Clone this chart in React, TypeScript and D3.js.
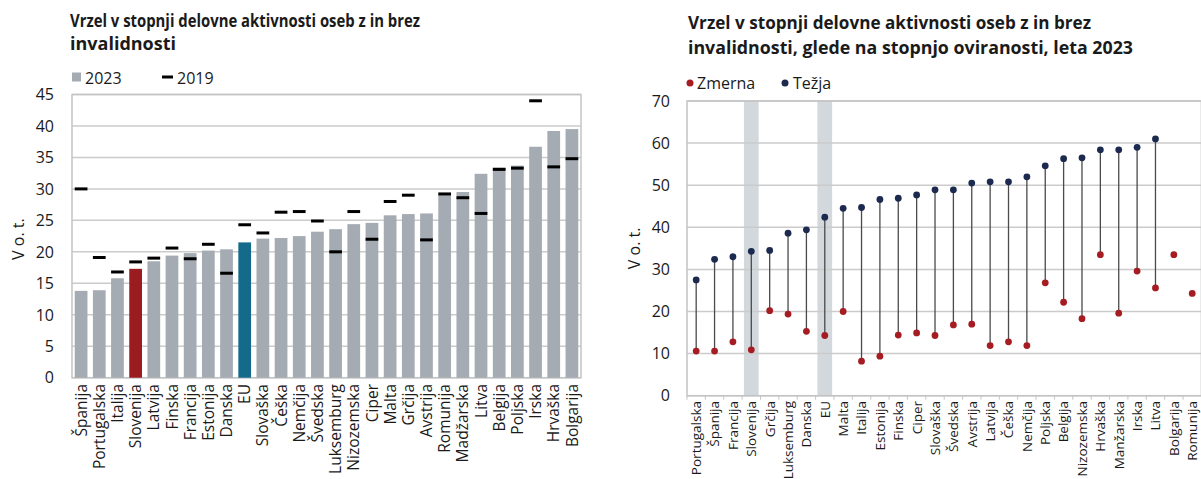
import React from "react";
import * as d3 from "d3";

// ---------- Left chart data ----------
const leftCategories = ["Španija","Portugalska","Italija","Slovenija","Latvija","Finska","Francija","Estonija","Danska","EU","Slovaška","Češka","Nemčija","Švedska","Luksemburg","Nizozemska","Ciper","Malta","Grčija","Avstrija","Romunija","Madžarska","Litva","Belgija","Poljska","Irska","Hrvaška","Bolgarija"];
const values2023 = [13.8,13.9,15.8,17.3,18.5,19.4,19.8,20.2,20.4,21.5,22.1,22.2,22.5,23.2,23.6,24.4,24.6,25.8,26.0,26.1,29.1,29.5,32.4,33.4,33.7,36.7,39.2,39.5];
const values2019 = [30.0,19.1,16.8,18.4,19.0,20.6,18.9,21.2,16.6,24.3,23.0,26.3,26.4,24.9,20.0,26.4,22.0,28.0,29.0,21.9,29.2,28.6,26.1,33.1,33.3,44.0,33.5,34.8];
const leftTicks = [0,5,10,15,20,25,30,35,40,45];

// ---------- Right chart data ----------
const rightCategories = ["Portugalska","Španija","Francija","Slovenija","Grčija","Luksemburg","Danska","EU","Malta","Italija","Estonija","Finska","Ciper","Slovaška","Švedska","Avstrija","Latvija","Češka","Nemčija","Poljska","Belgija","Nizozemska","Hrvaška","Manžarska","Irska","Litva","Bolgarija","Romunija"];
const zmerna = [10.6,10.6,12.8,10.9,20.2,19.4,15.3,14.3,20.0,8.2,9.4,14.4,14.9,14.3,16.8,17.0,11.9,12.8,11.9,26.8,22.2,18.3,33.5,19.6,29.6,25.6,33.5,24.3];
const tezja: (number | null)[] = [27.5,32.4,33.0,34.3,34.5,38.6,39.4,42.4,44.5,44.7,46.6,46.9,47.7,48.9,48.9,50.5,50.8,50.8,52.0,54.6,56.3,56.5,58.4,58.4,59.0,61.0,null,null];
const highlighted = ["Slovenija","EU"];
const rightTicks = [0,10,20,30,40,50,60,70];

const FONT = "'Open Sans', 'Noto Sans', sans-serif";

function LeftChart() {
  const L = 72, R = 581, T = 94.5, B = 377.7;
  const x = d3.scaleBand<string>().domain(leftCategories).range([L, R]).paddingInner(0.3).paddingOuter(0.15);
  const y = d3.scaleLinear().domain([0, 45]).range([B, T]);
  const bw = x.bandwidth();
  const colorFor = (c: string) => c === "Slovenija" ? "#9a1b20" : c === "EU" ? "#136a8a" : "#a4abb2";
  return (
    <g>
      <text x={70} y={27} fontFamily={FONT} fontWeight={700} fontSize={18} fill="#1a1a1a" textLength={350} lengthAdjust="spacingAndGlyphs">Vrzel v stopnji delovne aktivnosti oseb z in brez</text>
      <text x={70} y={50} fontFamily={FONT} fontWeight={700} fontSize={18} fill="#1a1a1a" textLength={106} lengthAdjust="spacingAndGlyphs">invalidnosti</text>
      {/* legend */}
      <rect x={72} y={72.5} width={9} height={9} fill="#a4abb2" />
      <text x={85} y={83.5} fontFamily={FONT} fontSize={16} fill="#1a1a1a">2023</text>
      <rect x={162} y={75.5} width={11} height={3} fill="#000" />
      <text x={177} y={83.5} fontFamily={FONT} fontSize={16} fill="#1a1a1a">2019</text>
      {/* grid */}
      {leftTicks.map(t => (
        <g key={t}>
          <line x1={L} x2={R} y1={y(t)} y2={y(t)} stroke="#cbcbcb" strokeWidth={1.5} />
          <text x={54} y={y(t)} dy="0.36em" textAnchor="end" fontFamily={FONT} fontSize={16} fill="#1a1a1a">{t}</text>
        </g>
      ))}
      <rect x={L} y={T} width={R - L} height={B - T} fill="none" stroke="#c4c4c4" strokeWidth={1.5} />
      <text transform={`translate(24,${(T + B) / 2 + 3}) rotate(-90)`} textAnchor="middle" fontFamily={FONT} fontSize={16} fill="#1a1a1a">V o. t.</text>
      {leftCategories.map((c, i) => (
        <rect key={c} x={x(c)!} y={y(values2023[i])} width={bw} height={B - y(values2023[i])} fill={colorFor(c)} />
      ))}
      {leftCategories.map((c, i) => (
        <rect key={"m" + c} x={x(c)!} y={y(values2019[i]) - 1.5} width={bw} height={3} fill="#000" />
      ))}
      {leftCategories.map(c => (
        <text key={"l" + c} transform={`translate(${x(c)! + bw / 2},384) rotate(-90)`} dy="0.36em" textAnchor="end" fontFamily={FONT} fontSize={15.5} fill="#1a1a1a">{c}</text>
      ))}
    </g>
  );
}

function RightChart() {
  const L = 687, R = 1201.4, T = 101, B = 395.7;
  const x = d3.scaleBand<string>().domain(rightCategories).range([L, R]).paddingInner(0.2).paddingOuter(0.1);
  const y = d3.scaleLinear().domain([0, 70]).range([B, T]);
  const bw = x.bandwidth();
  const step = x.step();
  const cx = (c: string) => x(c)! + bw / 2;
  return (
    <g>
      <text x={688} y={29} fontFamily={FONT} fontWeight={700} fontSize={18.5} fill="#1a1a1a" textLength={403} lengthAdjust="spacingAndGlyphs">Vrzel v stopnji delovne aktivnosti oseb z in brez</text>
      <text x={688} y={54} fontFamily={FONT} fontWeight={700} fontSize={18.5} fill="#1a1a1a" textLength={445} lengthAdjust="spacingAndGlyphs">invalidnosti, glede na stopnjo oviranosti, leta 2023</text>
      {/* legend */}
      <circle cx={690} cy={83} r={3.5} fill="#a51d22" />
      <text x={697} y={88.5} fontFamily={FONT} fontSize={16} fill="#1a1a1a">Zmerna</text>
      <circle cx={785} cy={83} r={3.5} fill="#1b2a4e" />
      <text x={793} y={88.5} fontFamily={FONT} fontSize={16} fill="#1a1a1a">Težja</text>
      {highlighted.map(c => (
        <rect key={"h" + c} x={x(c)!} y={T} width={bw} height={B - T} fill="#d2d8dc" />
      ))}
      {rightTicks.map(t => (
        <g key={t}>
          <line x1={L} x2={R} y1={y(t)} y2={y(t)} stroke="#cbcbcb" strokeWidth={1.5} />
          <text x={670} y={y(t)} dy="0.36em" textAnchor="end" fontFamily={FONT} fontSize={16} fill="#1a1a1a">{t}</text>
        </g>
      ))}
      <rect x={L} y={T} width={R - L} height={B - T} fill="none" stroke="#c4c4c4" strokeWidth={1.5} />
      {rightCategories.map((c, i) => (
        <line key={"tk" + c} x1={L + i * step} x2={L + i * step} y1={B} y2={B + 4} stroke="#c4c4c4" strokeWidth={1} />
      ))}
      <text transform={`translate(640,${(T + B) / 2}) rotate(-90)`} textAnchor="middle" fontFamily={FONT} fontSize={16} fill="#1a1a1a">V o. t.</text>
      {rightCategories.map((c, i) => tezja[i] != null ? (
        <line key={"ln" + c} x1={cx(c)} x2={cx(c)} y1={y(zmerna[i])} y2={y(tezja[i] as number)} stroke="#4a4a4a" strokeWidth={1.3} />
      ) : null)}
      {rightCategories.map((c, i) => (
        <circle key={"z" + c} cx={cx(c)} cy={y(zmerna[i])} r={3.4} fill="#a51d22" />
      ))}
      {rightCategories.map((c, i) => tezja[i] != null ? (
        <circle key={"t" + c} cx={cx(c)} cy={y(tezja[i] as number)} r={3.4} fill="#1b2a4e" />
      ) : null)}
      {rightCategories.map(c => (
        <text key={"l" + c} transform={`translate(${cx(c)},401) rotate(-90)`} dy="0.36em" textAnchor="end" fontFamily={FONT} fontSize={13.5} fill="#1a1a1a">{c}</text>
      ))}
    </g>
  );
}

export default function App() {
  return (
    <svg width={1201} height={479} style={{ position: "absolute", left: 0, top: 0, background: "#fff" }}>
      <rect x={0} y={0} width={1201} height={479} fill="#fff" />
      <LeftChart />
      <RightChart />
    </svg>
  );
}
